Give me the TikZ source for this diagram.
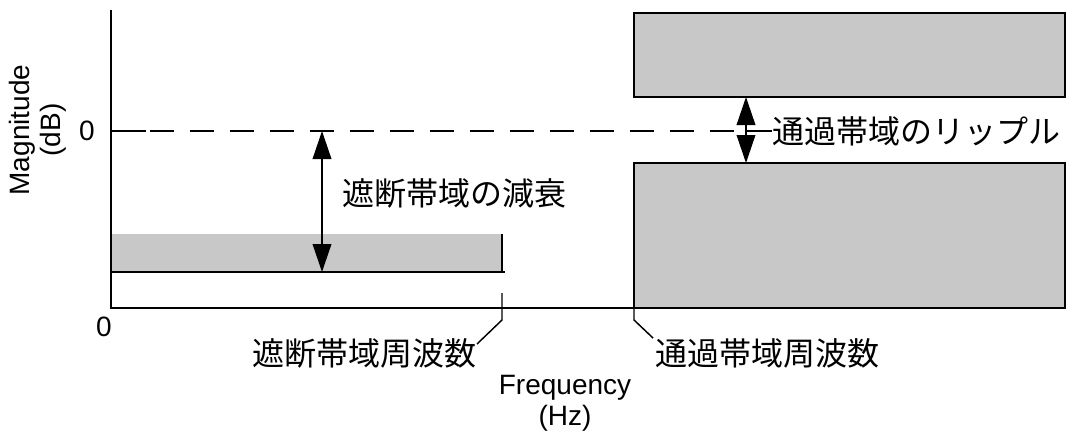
\documentclass[tikz,border=0pt]{standalone}
\usepackage{fontspec}
\setmainfont{Liberation Sans}
\newfontfamily\jp{Noto Sans CJK JP}
\usetikzlibrary{arrows.meta,calc}

\definecolor{bandgray}{RGB}{200,200,200}

\tikzset{
  axisline/.style={line width=1.4pt},
  thinline/.style={line width=1.1pt},
  bandbox/.style={fill=bandgray, draw=black, line width=1.4pt},
  zeroline/.style={line width=1.1pt, dash pattern=on 18pt off 12pt},
  dimarrow/.style={line width=1.1pt, {Triangle[length=21pt,width=14pt]}-{Triangle[length=21pt,width=14pt]}},
  jplabel/.style={font=\jp\fontsize{24}{28}\selectfont, inner sep=0pt},
  latinlabel/.style={font=\fontsize{21}{23}\selectfont, inner sep=0pt, align=center},
}

\begin{document}
\begin{tikzpicture}[x=0.75pt, y=-0.75pt]
  \useasboundingbox (0,0) rectangle (1066,435);

  % axis corner points
  \coordinate (origin) at (111,308);
  \coordinate (ytop) at (111,10);
  \coordinate (xend) at (1066,308);

  % stopband: gray band below the attenuation limit
  \fill[bandgray] (111,234) rectangle (502,272);
  \coordinate (sbLeft) at (111,272);
  \coordinate (sbBottomEnd) at (505,272);
  \coordinate (sbTop) at (502,234);
  \coordinate (sbCorner) at (502,272);
  \draw[thinline] (sbLeft) -- (sbBottomEnd);
  \draw[line width=1.6pt] (sbTop) -- (sbCorner);

  % passband: forbidden regions above and below the ripple
  \draw[bandbox] (634,13) rectangle (1065,97);
  \draw[bandbox] (634,163) rectangle (1065,308);

  % axes
  \draw[axisline] (ytop) -- (origin) -- (xend);

  % 0 dB reference line
  \coordinate (zeroStart) at (111,131);
  \coordinate (zeroTick) at (146,131);
  \coordinate (dashStart) at (150,131);
  \coordinate (rippleMid) at (746,131);
  \draw[thinline] (zeroStart) -- (zeroTick);
  \draw[zeroline] (dashStart) -- (rippleMid);

  % axis values
  \node[latinlabel] (zeroDB) at (87,131) {0};
  \node[latinlabel] (zeroHz) at (104,327) {0};

  % axis titles
  \node[latinlabel, rotate=90] (ylabel) at (38,130) {Magnitude\\(dB)};
  \node[latinlabel] (xlabel) at (565,403) {Frequency\\(Hz)};

  % stopband attenuation
  \coordinate (attTop) at (322,131);
  \coordinate (attBottom) at (322,272);
  \draw[dimarrow] (attTop) -- (attBottom);
  \node[jplabel] (attLabel) at (454,193) {遮断帯域の減衰};

  % passband ripple
  \coordinate (ripTop) at (746,97);
  \coordinate (ripBottom) at (746,163);
  \draw[dimarrow] (ripTop) -- (ripBottom);
  \node[jplabel, anchor=west] (ripLabel) at (772,131) {通過帯域のリップル};
  \draw[thinline] (rippleMid) -- (ripLabel.west);

  % band edge frequencies
  \node[jplabel] (sbFreq) at (364,353) {遮断帯域周波数};
  \coordinate (sbTickTop) at (502,293);
  \coordinate (sbTickBend) at (502,320);
  \coordinate (sbTickEnd) at (477,344);
  \draw[thinline] (sbTickTop) -- (sbTickBend) -- (sbTickEnd);

  \node[jplabel, anchor=west] (pbFreq) at (655,353) {通過帯域周波数};
  \coordinate (pbTickTop) at (634,308);
  \coordinate (pbTickBend) at (634,320);
  \coordinate (pbTickEnd) at (653,338);
  \draw[thinline] (pbTickTop) -- (pbTickBend) -- (pbTickEnd);
\end{tikzpicture}
\end{document}
